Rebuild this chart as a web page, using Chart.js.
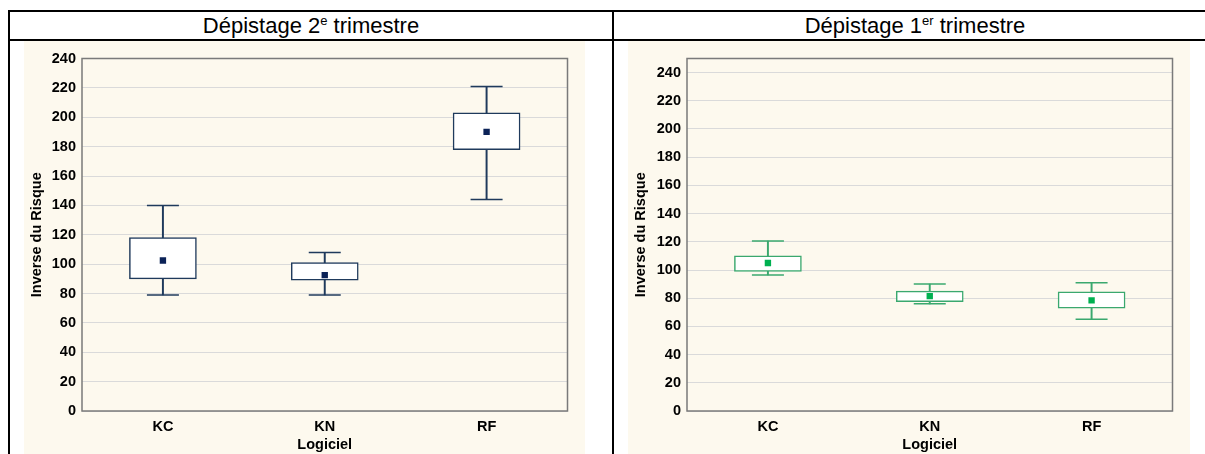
<!DOCTYPE html>
<html>
<head>
<meta charset="utf-8">
<script src="https://cdn.jsdelivr.net/npm/chart.js@4.4.1/dist/chart.umd.min.js"></script>
<style>
  body { margin: 0; background: #fff; }
  #page { position: relative; width: 1205px; height: 454px; overflow: hidden; font-family: "Liberation Sans", Arial, sans-serif; }
  .hl { position: absolute; left: 8px; width: 1220px; height: 2px; background: #000; }
  .vl { position: absolute; top: 10px; width: 2px; height: 460px; background: #000; }
  .head { position: absolute; top: 12px; height: 27px; line-height: 27px; text-align: center; font-size: 22px; color: #000; }
  .head sup { font-size: 13px; line-height: 0; vertical-align: 8px; }
  .box { position: absolute; top: 41px; height: 413px; background: #fdf9ee; }
</style>
</head>
<body>
<div id="page">
  <div class="hl" style="top:10px"></div>
  <div class="hl" style="top:39px"></div>
  <div class="vl" style="left:8px"></div>
  <div class="vl" style="left:612px"></div>
  <div class="head" style="left:10px;width:602px">Dépistage 2<sup>e</sup> trimestre</div>
  <div class="head" style="left:614px;width:602px">Dépistage 1<sup>er</sup> trimestre</div>
  <div class="box" style="left:24px;width:561px"><canvas id="c2"></canvas></div>
  <div class="box" style="left:628px;width:562px"><canvas id="c1"></canvas></div>
</div>
<script>
const categories = ['KC', 'KN', 'RF'];

// Dépistage 2e trimestre
const t2Min  = [79, 79, 144];
const t2Q1   = [90, 89, 178];
const t2Mean = [102.5, 92.5, 190];
const t2Q3   = [118, 101, 203];
const t2Max  = [140, 108, 221];

// Dépistage 1er trimestre
const t1Min  = [96.5, 76, 65];
const t1Q1   = [99, 77.5, 73];
const t1Mean = [105, 81.5, 78.5];
const t1Q3   = [110, 85, 84.5];
const t1Max  = [120.5, 90, 91];

const yStep = 20;
const yMaxT2 = 240;
const yMaxT1 = 250;

Chart.defaults.font.family = '"Liberation Sans", Arial, sans-serif';
Chart.defaults.color = '#000';

// cadre autour de la zone de tracé
const framePlugin = {
  id: 'frame',
  afterDraw(chart) {
    const a = chart.chartArea, ctx = chart.ctx;
    ctx.save();
    ctx.strokeStyle = '#7a7a7a';
    ctx.lineWidth = 1.5;
    ctx.strokeRect(a.left, a.top, a.right - a.left, a.bottom - a.top);
    ctx.restore();
  }
};

function makeChart(id, mins, q1s, means, q3s, maxs, yMax, yWidth, lineColor, meanColor) {
  const ctx = document.getElementById(id).getContext('2d');
  const labelFont = { size: 14.5, weight: 'bold' };
  return new Chart(ctx, {
    type: 'bar',
    data: {
      labels: categories,
      datasets: [
        {
          type: 'line', label: 'moyenne', data: means, order: 0,
          showLine: false, pointStyle: 'rect', pointRadius: 4.5,
          pointBackgroundColor: meanColor, pointBorderWidth: 0
        },
        {
          label: 'boite', data: categories.map((c, i) => [q1s[i], q3s[i]]), order: 1,
          grouped: false, barThickness: 67, backgroundColor: '#fff',
          borderColor: lineColor, borderWidth: 1.5, borderSkipped: false
        },
        {
          type: 'line', label: 'max', data: maxs, order: 2,
          showLine: false, pointStyle: 'line', pointRadius: 16,
          pointBorderColor: lineColor, pointBorderWidth: 1.5
        },
        {
          type: 'line', label: 'min', data: mins, order: 2,
          showLine: false, pointStyle: 'line', pointRadius: 16,
          pointBorderColor: lineColor, pointBorderWidth: 1.5
        },
        {
          label: 'moustache', data: categories.map((c, i) => [mins[i], maxs[i]]), order: 3,
          grouped: false, barThickness: 1.3, backgroundColor: lineColor, borderWidth: 0
        }
      ]
    },
    options: {
      responsive: true,
      maintainAspectRatio: false,
      animation: false,
      events: [],
      layout: { padding: { top: 14, right: 6, left: 0, bottom: 0 } },
      plugins: { legend: { display: false }, tooltip: { enabled: false } },
      scales: {
        x: {
          offset: true,
          grid: { display: false, drawTicks: false },
          border: { display: false },
          ticks: { padding: 7, font: labelFont },
          title: { display: true, text: 'Logiciel', font: labelFont, padding: { top: 0, bottom: 0 } },
          afterFit(s) { s.height = 43; }
        },
        y: {
          min: 0, max: yMax,
          grid: { color: '#dadada', lineWidth: 1, drawTicks: false },
          border: { display: false },
          ticks: { stepSize: yStep, includeBounds: false, padding: 6, font: labelFont },
          title: { display: true, text: 'Inverse du Risque', font: labelFont, padding: { top: 4, bottom: 0 } },
          afterFit(s) { s.width = yWidth; }
        }
      }
    },
    plugins: [framePlugin]
  });
}

makeChart('c2', t2Min, t2Q1, t2Mean, t2Q3, t2Max, yMaxT2, 58, '#1f3a5c', '#0b2257');
makeChart('c1', t1Min, t1Q1, t1Mean, t1Q3, t1Max, yMaxT1, 59, '#3aa86e', '#00b050');
</script>
</body>
</html>
